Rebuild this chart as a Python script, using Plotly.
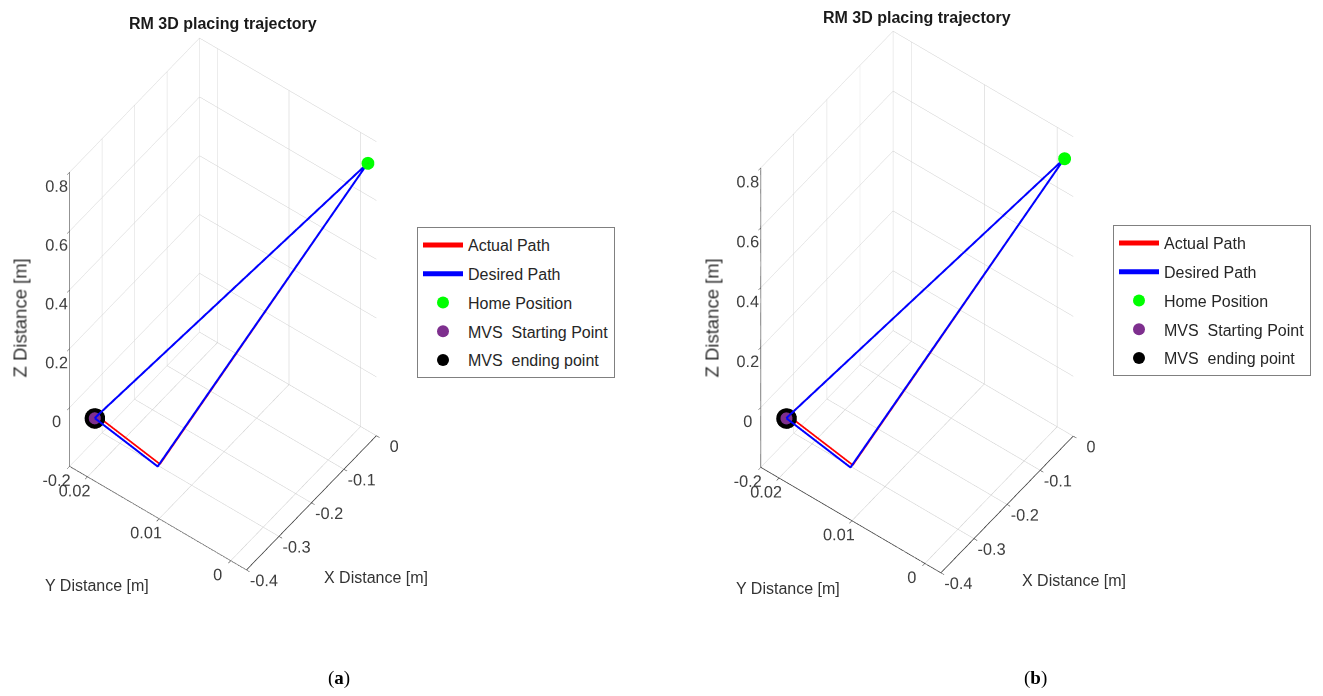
import plotly.graph_objects as go
import numpy as np

# ---- data ----
# trajectory vertices: Home -> MVS start -> lower corner -> Home
desired_x = [0.0, -0.4, -0.4, 0.0]
desired_y = [-0.001, 0.019, 0.0102, -0.001]
desired_z = [0.71, 0.014, -0.025, 0.71]

actual_x = [0.0, -0.393, -0.393, 0.0]
actual_y = [-0.001, 0.019, 0.0102, -0.001]
actual_z = [0.71, 0.014, -0.025, 0.71]

home_pt = [0.0, -0.001, 0.71]
mvs_start_pt = [-0.4, 0.019, 0.014]
mvs_end_pt = [-0.4, 0.019, 0.014]

x_ticks = [-0.4, -0.3, -0.2, -0.1, 0.0]
x_ticklabels = ["-0.4", "-0.3", "-0.2", "-0.1", "0"]
y_ticks = [0.0, 0.01, 0.02]
y_ticklabels = ["0", "0.01", "0.02"]
z_ticks = [-0.2, 0.0, 0.2, 0.4, 0.6, 0.8]
z_ticklabels = ["-0.2", "0", "0.2", "0.4", "0.6", "0.8"]

x_range = [-0.4, 0.0]
y_range = [-0.0022, 0.0225]
z_range = [-0.2, 0.8]

title_text = "RM 3D placing trajectory"

W, H = 1323, 696
FONT = "Liberation Sans, Arial, sans-serif"

fig = go.Figure()

for i, sc in enumerate(["scene", "scene2"]):
    leg = "legend" if i == 0 else "legend2"
    fig.add_trace(go.Scatter3d(x=actual_x, y=actual_y, z=actual_z, mode="lines",
                               line=dict(color="#ff0000", width=3.5), name="Actual Path",
                               scene=sc, legend=leg, legendgroup="a%d" % i, legendrank=1))
    fig.add_trace(go.Scatter3d(x=desired_x, y=desired_y, z=desired_z, mode="lines",
                               line=dict(color="#0000ff", width=4), name="Desired Path",
                               scene=sc, legend=leg, legendgroup="d%d" % i, legendrank=2))
    fig.add_trace(go.Scatter3d(x=[home_pt[0]], y=[home_pt[1]], z=[home_pt[2]], mode="markers",
                               marker=dict(color="#00ff00", size=7.5, line=dict(width=0)),
                               name="Home Position", scene=sc, legend=leg, legendgroup="h%d" % i,
                               legendrank=3))
    fig.add_trace(go.Scatter3d(x=[mvs_end_pt[0]], y=[mvs_end_pt[1]], z=[mvs_end_pt[2]], mode="markers",
                               marker=dict(color="#000000", size=12, line=dict(width=0)),
                               name="MVS  ending point", scene=sc, legend=leg, legendgroup="e%d" % i,
                               legendrank=5))
    fig.add_trace(go.Scatter3d(x=[mvs_start_pt[0]], y=[mvs_start_pt[1]], z=[mvs_start_pt[2]], mode="markers",
                               marker=dict(color="#7e2f8e", size=7, line=dict(width=0)),
                               name="MVS  Starting Point", scene=sc, legend=leg, legendgroup="s%d" % i,
                               legendrank=4))


def axis(rng, tv, tt):
    return dict(range=rng, tickvals=tv, ticktext=tt, title=dict(text=""),
                showgrid=True, gridcolor="#cccccc", gridwidth=1,
                showline=True, linecolor="#333333", linewidth=1.5,
                zeroline=False, showbackground=False, showspikes=False,
                ticks="outside", ticklen=4, tickcolor="#333333", tickangle=0,
                tickfont=dict(family=FONT, size=14, color="#404040"), autorange=False)


d = np.array([-0.502, -0.378, 0.778])
eye = d / np.linalg.norm(d) * 2.0

def px2fx(v):
    return v / W

def py2fy(v):
    return 1 - v / H

centers = [(223, 303.5), (916.5, 301.5)]
scales = [1.2, 1.222]
dw, dh = 440, 600
for i, sc in enumerate(["scene", "scene2"]):
    cx, cy = centers[i]
    s = scales[i]
    fig.layout[sc] = dict(
        domain=dict(x=[px2fx(cx - dw / 2), px2fx(cx + dw / 2)],
                    y=[max(0, py2fy(cy + dh / 2)), min(1, py2fy(cy - dh / 2))]),
        xaxis=axis(x_range, x_ticks, x_ticklabels),
        yaxis=axis(y_range, y_ticks, y_ticklabels),
        zaxis=axis(z_range, z_ticks, z_ticklabels),
        aspectmode="manual", aspectratio=dict(x=0.6 * s, y=0.615 * s, z=1.3 * s),
        camera=dict(eye=dict(x=eye[0], y=eye[1], z=eye[2]), up=dict(x=0, y=0, z=1),
                    center=dict(x=0, y=0, z=0), projection=dict(type="orthographic")),
        bgcolor="white",
    )

leg_common = dict(font=dict(family=FONT, size=16, color="#262626"), bgcolor="white",
                  bordercolor="#808080", borderwidth=1, xanchor="left", yanchor="top",
                  tracegroupgap=5, itemsizing="constant", itemwidth=40)
fig.update_layout(
    width=W, height=H, margin=dict(l=0, r=0, t=0, b=0),
    paper_bgcolor="white", plot_bgcolor="white",
    legend=dict(x=px2fx(417), y=py2fy(227), **leg_common),
    legend2=dict(x=px2fx(1113), y=py2fy(225), **leg_common),
    showlegend=True,
)

ann = []
ann.append(dict(text="<b>%s</b>" % title_text, x=px2fx(223), y=py2fy(24), font=dict(family=FONT, size=16, color="#1a1a1a")))
ann.append(dict(text="<b>%s</b>" % title_text, x=px2fx(917), y=py2fy(17), font=dict(family=FONT, size=16, color="#1a1a1a")))
for (zx, zy), (yx, yy), (xx, xy) in [((20, 318.5), (97, 585), (376, 577)), ((712, 318.5), (788, 588), (1074, 580))]:
    ann.append(dict(text="Z Distance [m]", x=px2fx(zx), y=py2fy(zy), textangle=-90, font=dict(family=FONT, size=18.5, color="#333333")))
    ann.append(dict(text="Y Distance [m]", x=px2fx(yx), y=py2fy(yy), font=dict(family=FONT, size=16, color="#333333")))
    ann.append(dict(text="X Distance [m]", x=px2fx(xx), y=py2fy(xy), font=dict(family=FONT, size=16, color="#333333")))
ann.append(dict(text="(<b>a</b>)", x=px2fx(339), y=py2fy(678), font=dict(family="Liberation Serif, DejaVu Serif, serif", size=19, color="black")))
ann.append(dict(text="(<b>b</b>)", x=px2fx(1035), y=py2fy(678), font=dict(family="Liberation Serif, DejaVu Serif, serif", size=19, color="black")))
for a in ann:
    a.update(xref="paper", yref="paper", showarrow=False, xanchor="center", yanchor="middle")
fig.update_layout(annotations=ann)

fig.write_html("out.html", config={"displayModeBar": False},
               post_script="document.body.style.margin='0px';document.body.style.overflow='hidden';")
